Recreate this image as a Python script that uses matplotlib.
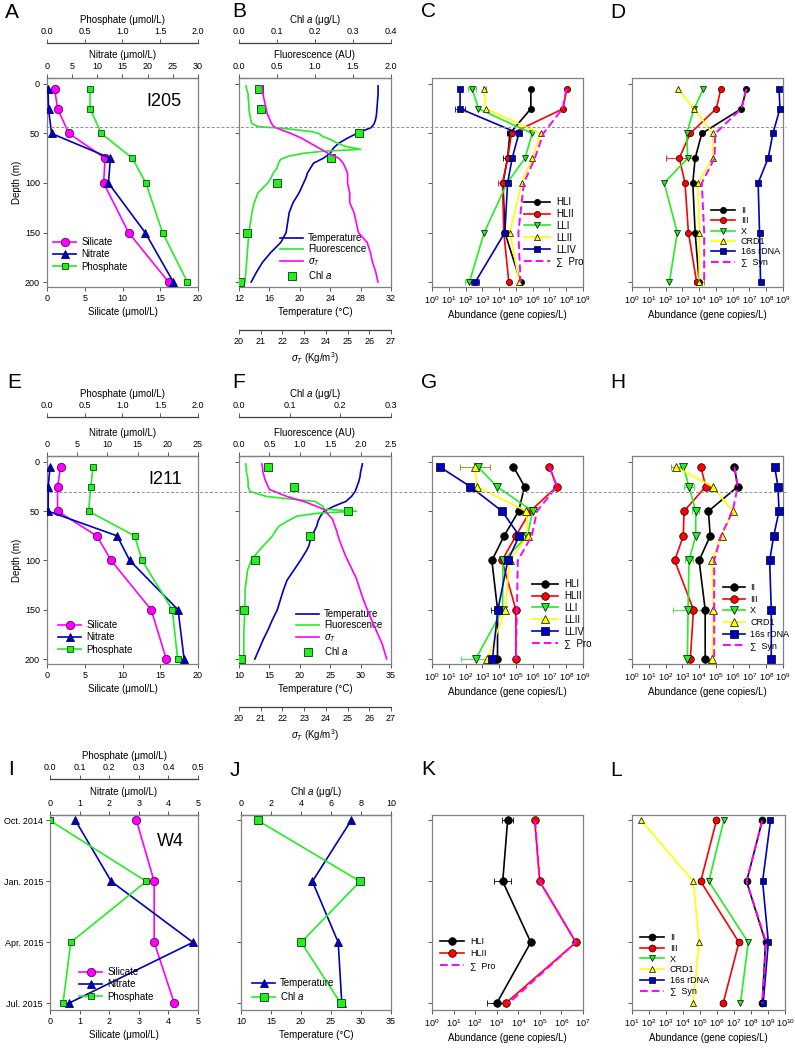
import matplotlib.pyplot as plt
import numpy as np
from matplotlib.lines import Line2D
from matplotlib.ticker import NullLocator

plt.rcParams['font.family'] = ['Liberation Sans', 'DejaVu Sans']
plt.rcParams['mathtext.fontset'] = 'custom'
plt.rcParams['mathtext.rm'] = 'Liberation Sans'
plt.rcParams['mathtext.it'] = 'Liberation Sans:italic'
plt.rcParams['mathtext.sf'] = 'Liberation Sans'

# ---------------- data ----------------
depth = [5, 25, 50, 75, 100, 150, 200]
months = ['Oct. 2014', 'Jan. 2015', 'Apr. 2015', 'Jul. 2015']

# I205 nutrients (umol/L)
si_205 = [1.0, 1.4, 2.9, 7.7, 7.5, 10.8, 16.1]
no3_205 = [0.2, 0.3, 0.9, 12.6, 12.2, 19.5, 25.1]
po4_205 = [0.57, 0.57, 0.72, 1.13, 1.31, 1.53, 1.86]
chl_205 = [0.053, 0.058, 0.317, 0.243, 0.099, 0.021, 0.003]

# I205 CTD profiles
t_dep_205 = [2, 5, 10, 20, 30, 35, 40, 44, 50, 55, 60, 65, 70, 75, 80, 85, 90, 95, 100,
             110, 120, 130, 140, 150, 160, 170, 180, 190, 200]
temp_205 = [30.3, 30.3, 30.3, 30.2, 30.1, 30.0, 29.8, 29.4, 27.5, 26.2, 25.1, 24.4, 24.0, 23.1,
            21.8, 21.4, 21.0, 20.8, 20.5, 19.9, 19.1, 18.6, 18.4, 18.2, 17.5, 16.2, 15.1, 14.3, 13.6]
f_dep_205 = [2, 5, 10, 15, 20, 25, 30, 35, 40, 43, 45, 48, 50, 53, 56, 60, 63, 66, 68, 70, 73,
             76, 80, 85, 90, 95, 100, 110, 120, 130, 140, 150, 160, 170, 180, 190, 200]
fluo_205 = [0.09, 0.10, 0.12, 0.12, 0.13, 0.13, 0.14, 0.15, 0.17, 0.25, 0.6, 0.95, 1.05, 1.1,
            1.2, 1.3, 1.4, 1.6, 1.1, 0.85, 0.65, 0.55, 0.52, 0.5, 0.45, 0.42, 0.38, 0.25, 0.2,
            0.17, 0.15, 0.13, 0.12, 0.11, 0.1, 0.09, 0.08]
s_dep_205 = [2, 5, 10, 20, 30, 40, 43, 46, 50, 55, 60, 65, 70, 75, 80, 90, 100, 110, 120, 130,
             140, 150, 155, 160, 170, 180, 190, 200]
sigma_205 = [21.05, 21.08, 21.1, 21.2, 21.3, 21.5, 21.6, 21.9, 22.4, 22.9, 23.3, 23.7, 24.1,
             24.6, 24.8, 25.0, 25.0, 25.1, 25.1, 25.3, 25.4, 25.5, 25.7, 25.9, 26.05, 26.15,
             26.3, 26.4]

# I205 Prochlorococcus (gene copies/L)
hli_205 = [7.8e5, 7.8e5, 4.4e4, 3.2e4, 1.7e4, 2.2e4, 1.9e5]
hlii_205 = [1.05e8, 6.6e7, 5.5e4, 3.2e4, 1.6e4, 1.9e4, 3.8e4]
lli_205 = [2.5e2, 5.8e2, 9.3e5, 3.5e5, 3.0e4, 1.3e3, 1.7e2]
llii_205 = [1.3e3, 1.6e3, 3.0e6, 9.3e5, 2.2e5, 4.4e4, 1.6e5]
lliv_205 = [47, 47, 1.5e5, 6.0e4, 3.2e4, 2.2e4, 3.8e2]
pro_205 = [1.05e8, 6.0e7, 4.3e6, 1.35e6, 3.0e5, 1.4e5, 1.9e5]
# error bars, in decades
hli_205_err = [0, 0, 0.2, 0.3, 0, 0, 0]
hlii_205_err = [0, 0, 0, 0, 0.3, 0, 0]
lli_205_err = [0.25, 0, 0, 0, 0, 0, 0.25]
llii_205_err = [0.1, 0, 0, 0, 0, 0, 0]
lliv_205_err = [0, 0.3, 0, 0, 0, 0, 0.25]

# I205 Synechococcus
ii_205 = [6.6e6, 3.3e6, 1.45e4, 5.8e3, 4.2e3, 5.8e3, 1.0e4]
iii_205 = [2.0e5, 1.05e5, 2.9e3, 6.6e2, 1.45e3, 2.3e3, 7.1e3]
x_205 = [1.8e4, 5.0e3, 1.8e3, 2.1e3, 83, 5.0e2, 1.7e2]
crd1_205 = [5.2e2, 5.0e3, 6.6e4, 6.3e4, 8.3e3, 1.05e4, 1.0e4]
rdna_205 = [5.8e8, 6.6e8, 2.5e8, 1.3e8, 3.3e7, 4.0e7, 4.6e7]
syn_205 = [6.6e6, 3.3e6, 9.1e4, 8.3e4, 1.45e4, 2.0e4, 2.0e4]
iii_205_err = [0, 0, 0, 0.8, 0, 0, 0]
crd1_205_err = [0, 0, 0, 0, 0, 0, 0.3]

# I211 nutrients
si_211 = [1.8, 1.4, 1.4, 6.6, 8.5, 13.8, 15.8]
no3_211 = [0.5, 0.2, 0.2, 11.6, 13.7, 21.7, 22.7]
po4_211 = [0.61, 0.58, 0.55, 1.16, 1.26, 1.66, 1.73]
chl_211 = [0.057, 0.108, 0.216, 0.141, 0.032, 0.010, 0.004]

# I211 CTD profiles
t_dep_211 = [2, 5, 10, 15, 20, 25, 30, 35, 40, 45, 50, 55, 60, 65, 70, 75, 80, 85, 90, 95, 100,
             110, 120, 130, 140, 150, 160, 170, 180, 190, 200]
temp_211 = [30.3, 30.2, 30.0, 29.9, 29.7, 29.4, 29.1, 28.5, 27.6, 25.6, 24.0, 23.4, 23.0, 22.8,
            22.4, 22.0, 21.7, 21.5, 21.1, 20.6, 20.1, 19.0, 17.9, 17.3, 16.8, 16.3, 15.5, 14.8,
            14.0, 13.3, 12.6]
f_dep_211 = [2, 5, 10, 15, 20, 25, 30, 35, 38, 40, 45, 48, 50, 52, 55, 60, 65, 70, 75, 80, 85,
             90, 95, 100, 110, 120, 130, 140, 150, 160, 170, 180, 190, 200]
fluo_211 = [0.11, 0.12, 0.12, 0.14, 0.15, 0.15, 0.18, 0.45, 0.9, 1.25, 1.38, 1.4, 1.93, 1.3,
            0.95, 0.8, 0.66, 0.6, 0.55, 0.48, 0.4, 0.33, 0.26, 0.2, 0.14, 0.12, 0.1, 0.1, 0.09,
            0.09, 0.08, 0.08, 0.08, 0.08]
s_dep_211 = [2, 5, 10, 18, 28, 35, 41, 48, 58, 70, 78, 95, 118, 138, 155, 170, 185, 200]
sigma_211 = [21.05, 21.08, 21.1, 21.2, 21.4, 22.2, 23.1, 23.9, 24.3, 24.5, 24.6, 24.9, 25.4,
             25.7, 26.0, 26.3, 26.6, 26.8]

# I211 Prochlorococcus
hli_211 = [7.2e4, 3.3e5, 1.45e5, 2.0e4, 3.7e3, 8.1e3, 8.0e3]
hlii_211 = [1.0e7, 2.8e7, 7.1e5, 1.0e5, 1.5e4, 1.0e5, 1.0e5]
lli_211 = [5.5e2, 7.4e3, 1.0e6, 4.9e5, 1.7e4, 1.6e4, 4.0e2]
llii_211 = [3.8e2, 4.8e2, 4.2e5, 5.1e5, 4.2e4, 2.3e4, 2.0e3]
lliv_211 = [2.9, 1.9e2, 1.5e4, 1.6e5, 3.3e4, 8.5e3, 4.0e3]
pro_211 = [1.0e7, 2.8e7, 1.8e6, 8.9e5, 1.3e5, 1.15e5, 1.0e5]
llii_211_err = [0.9, 0, 0, 0, 0, 0, 0]
lliv_211_err = [0, 0, 0, 0, 0, 0.4, 0]
lli_211_err = [0, 0, 0, 0, 0, 0, 0.9]

# I211 Synechococcus
ii_211 = [1.26e6, 2.0e6, 3.6e4, 4.6e4, 1.0e4, 2.3e4, 2.3e4]
iii_211 = [1.26e4, 2.5e4, 1.26e3, 1.15e3, 3.5e2, 4.6e3, 3.0e3]
x_211 = [1.15e3, 2.5e3, 6.3e3, 6.3e3, 2.5e3, 2.2e3, 2.0e3]
crd1_211 = [4.0e2, 6.3e4, 1.0e6, 2.2e5, 5.8e4, 7.2e4, 6.0e4]
rdna_211 = [3.2e8, 5.0e8, 5.8e8, 2.8e8, 1.6e8, 2.0e8, 2.0e8]
syn_211 = [1.26e6, 2.0e6, 1.0e6, 2.0e5, 7.9e4, 7.9e4, 7.9e4]
crd1_211_err = [0.3, 0, 0, 0, 0, 0, 0]
x_211_err = [0, 0.3, 0.2, 0, 0.25, 0.9, 0]

# W4 time series
si_w4 = [2.92, 3.52, 3.52, 4.2]
no3_w4 = [0.86, 2.07, 4.83, 0.63]
po4_w4 = [0.0, 0.325, 0.07, 0.044]
temp_w4 = [28.35, 21.9, 26.2, 26.8]
chl_w4 = [1.13, 7.94, 4.01, 6.65]
hli_w4 = [3.2e3, 1.9e3, 3.8e4, 1.0e3]
hlii_w4 = [5.8e4, 9.8e4, 4.7e6, 2.6e3]
pro_w4 = [6.0e4, 1.0e5, 4.7e6, 3.6e3]
hli_w4_err = [0.25, 0.4, 0, 0.45]
ii_w4 = [4.6e8, 5.5e7, 7.2e8, 4.6e8]
iii_w4 = [9.3e5, 1.1e5, 1.95e7, 2.3e6]
x_w4 = [2.5e6, 3.3e5, 6.9e7, 2.4e7]
crd1_w4 = [35, 4.0e4, 8.9e4, 4.0e4]
rdna_w4 = [1.4e9, 4.8e8, 1.05e9, 5.2e8]
syn_w4 = [4.6e8, 5.5e7, 7.9e8, 4.6e8]

MAG = '#ff00ff'
BLUE = '#0000c0'
GREEN = '#22ee22'
YEL = '#ffff00'
RED = '#ff0000'
BOX = '#808080'

W, H = 795, 1049
fig = plt.figure(figsize=(W / 100, H / 100), dpi=100)


def add_ax(x0, x1, y0, y1):
    return fig.add_axes([x0 / W, 1 - y1 / H, (x1 - x0) / W, (y1 - y0) / H])


def style(ax):
    for s in ax.spines.values():
        s.set_color(BOX)
        s.set_linewidth(0.9)
    ax.tick_params(direction='out', length=3, width=0.6, labelsize=6.5, pad=2, color='#404040')


def depth_axis(ax, labels):
    ax.set_ylim(205, -6)
    ax.set_yticks([0, 50, 100, 150, 200])
    if labels:
        ax.set_ylabel('Depth (m)', fontsize=7, labelpad=2)
    else:
        ax.set_yticklabels([])


def month_axis(ax, labels):
    ax.set_ylim(3.11, -0.09)
    ax.set_yticks(range(4))
    if labels:
        ax.set_yticklabels(months)
    else:
        ax.set_yticklabels([])


def set_x(ax, lim, ticks, fmt, label):
    ax.set_xlim(lim)
    ax.set_xticks(ticks)
    ax.set_xticklabels([fmt % v for v in ticks])
    ax.set_xlabel(label, fontsize=7, labelpad=3)


def twin(ax, where, offset):
    t = ax.twiny()
    if where == 'bottom':
        t.xaxis.tick_bottom()
        t.xaxis.set_label_position('bottom')
    for k, s in t.spines.items():
        s.set_visible(k == where)
    t.spines[where].set_color(BOX if offset == 0 else '#404040')
    t.spines[where].set_linewidth(0.9)
    if offset:
        t.spines[where].set_position(('outward', offset))
    t.tick_params(direction='out', length=3, width=0.6, labelsize=6.5, pad=2, color='#404040')
    return t


def legend(ax, handles, labels, x, y, fs=7, hl=2.4, ls=0.2, tp=0.5):
    ax.legend(handles, labels, loc='upper left', bbox_to_anchor=(x / W, 1 - y / H),
              bbox_transform=fig.transFigure, frameon=False, fontsize=fs, handlelength=hl,
              handletextpad=tp, labelspacing=ls, borderpad=0, borderaxespad=0)


def errs(ax, x, y, e, color):
    x = np.array(x, float)
    y = np.array(y, float)
    e = np.array(e, float)
    m = e > 0
    lo = x - x / 10 ** e
    hi = x * 10 ** e - x
    ax.errorbar(x[m], y[m], xerr=[lo[m], hi[m]], fmt='none', ecolor=color,
                elinewidth=0.6, capsize=2, capthick=0.6, zorder=1)


def nutrient_panel(rect, y, si, no3, po4, si_lim, no3_lim, po4_lim, offset, ytype, leg_xy):
    ax = add_ax(*rect)
    style(ax)
    tn = twin(ax, 'top', 0)
    tp = twin(ax, 'top', offset)
    set_x(ax, si_lim[:2], si_lim[2], si_lim[3], 'Silicate (\u03bcmol/L)')
    set_x(tn, no3_lim[:2], no3_lim[2], no3_lim[3], 'Nitrate (\u03bcmol/L)')
    set_x(tp, po4_lim[:2], po4_lim[2], po4_lim[3], 'Phosphate (\u03bcmol/L)')
    h1, = ax.plot(si, y, color=MAG, lw=1.2, marker='o', ms=6, mfc=MAG, mec='#600060', mew=0.6)
    h2, = tn.plot(no3, y, color=BLUE, lw=1.2, marker='^', ms=6, mfc=BLUE, mec='#000060', mew=0.6)
    h3, = tp.plot(po4, y, color=GREEN, lw=1.2, marker='s', ms=5, mfc=GREEN, mec='#005000', mew=0.6)
    if ytype == 'depth':
        depth_axis(ax, True)
    else:
        month_axis(ax, True)
    legend(tp, [h1, h2, h3], ['Silicate', 'Nitrate', 'Phosphate'], *leg_xy, ls=0.25)
    return ax


def ctd_panel(rect, temp_lim, fluo_lim, chl_lim, offset, tdat, fdat, sdat, chl, leg_xy):
    ax = add_ax(*rect)
    style(ax)
    tf = twin(ax, 'top', 0)
    tc = twin(ax, 'top', offset)
    ts = twin(ax, 'bottom', 31)
    set_x(ax, temp_lim[:2], temp_lim[2], '%d', 'Temperature (\u00b0C)')
    set_x(tf, fluo_lim[:2], fluo_lim[2], '%.1f', 'Fluorescence (AU)')
    set_x(tc, chl_lim[:2], chl_lim[2], '%.1f', 'Chl $a$ (\u03bcg/L)')
    set_x(ts, (20, 27), list(range(20, 28)), '%d', r'$\sigma_T$ (Kg/m$^3$)')
    h1, = ax.plot(tdat[1], tdat[0], color=BLUE, lw=1.2)
    h2, = tf.plot(fdat[1], fdat[0], color=GREEN, lw=1.2)
    h3, = ts.plot(sdat[1], sdat[0], color=MAG, lw=1.2)
    h4, = tc.plot(chl, depth, ls='none', marker='s', ms=5.5, mfc=GREEN, mec='#004000', mew=0.6)
    depth_axis(ax, False)
    legend(tc, [h1, h2, h3, h4], ['Temperature', 'Fluorescence', r'$\sigma_T$', 'Chl $a$'],
           *leg_xy, ls=0.15)
    return ax


def abund_panel(rect, y, series, xlim, ytype, leg_xy, ms=4.5, fs=7, ls=0.2, hl=2.7):
    ax = add_ax(*rect)
    style(ax)
    ax.set_xscale('log')
    ax.set_xlim(xlim)
    lo, hi = int(round(np.log10(xlim[0]))), int(round(np.log10(xlim[1])))
    ax.set_xticks([10.0 ** i for i in range(lo, hi + 1)])
    ax.xaxis.set_minor_locator(NullLocator())
    ax.set_xlabel('Abundance (gene copies/L)', fontsize=7, labelpad=3)
    handles, labels = [], []
    for vals, err, color, mk, lab in series:
        if mk is None:
            h, = ax.plot(vals, y, color=MAG, lw=1.4, ls=(0, (4, 2)), zorder=5)
        else:
            if err is not None:
                errs(ax, vals, y, err, color if color != YEL else '#888800')
            h, = ax.plot(vals, y, color=color, lw=1.2, marker=mk, ms=ms, mfc=color,
                         mec='black', mew=0.5, zorder=3)
        handles.append(h)
        labels.append(lab)
    if ytype == 'depth':
        depth_axis(ax, False)
    else:
        month_axis(ax, False)
    legend(ax, handles, labels, *leg_xy, fs=fs, hl=hl, ls=ls, tp=0.6)
    return ax


SUM = '\u2211  '

# ---------------- row 1: I205 ----------------
nutrient_panel((47, 198, 78, 287), depth, si_205, no3_205, po4_205,
               (0, 20, [0, 5, 10, 15, 20], '%d'), (0, 30, [0, 5, 10, 15, 20, 25, 30], '%d'),
               (0, 2, [0, 0.5, 1.0, 1.5, 2.0], '%.1f'), 25, 'depth', (53, 237))
ctd_panel((239, 391, 78, 287), (12, 32, [12, 16, 20, 24, 28, 32]),
          (0, 2, [0, 0.5, 1.0, 1.5, 2.0]), (0, 0.4, [0, 0.1, 0.2, 0.3, 0.4]), 25,
          (t_dep_205, temp_205), (f_dep_205, fluo_205), (s_dep_205, sigma_205), chl_205,
          (280, 233))
abund_panel((432, 583, 78, 287), depth,
            [(hli_205, hli_205_err, 'black', 'o', 'HLI'),
             (hlii_205, hlii_205_err, RED, 'o', 'HLII'),
             (lli_205, lli_205_err, GREEN, 'v', 'LLI'),
             (llii_205, llii_205_err, YEL, '^', 'LLII'),
             (lliv_205, lliv_205_err, BLUE, 's', 'LLIV'),
             (pro_205, None, MAG, None, SUM + 'Pro')],
            (1, 1e9), 'depth', (524, 197))
abund_panel((632, 783, 78, 287), depth,
            [(ii_205, None, 'black', 'o', 'II'),
             (iii_205, iii_205_err, RED, 'o', 'III'),
             (x_205, None, GREEN, 'v', 'X'),
             (crd1_205, crd1_205_err, YEL, '^', 'CRD1'),
             (rdna_205, None, BLUE, 's', '16s rDNA'),
             (syn_205, None, MAG, None, SUM + 'Syn')],
            (1, 1e9), 'depth', (711, 206), fs=6.5, ls=0.15)

# ---------------- row 2: I211 ----------------
nutrient_panel((47, 198, 456, 664), depth, si_211, no3_211, po4_211,
               (0, 20, [0, 5, 10, 15, 20], '%d'), (0, 25, [0, 5, 10, 15, 20, 25], '%d'),
               (0, 2, [0, 0.5, 1.0, 1.5, 2.0], '%.1f'), 28, 'depth', (58, 620))
ctd_panel((239, 391, 456, 664), (10, 35, [10, 15, 20, 25, 30, 35]),
          (0, 2.5, [0, 0.5, 1.0, 1.5, 2.0, 2.5]), (0, 0.3, [0, 0.1, 0.2, 0.3]), 28,
          (t_dep_211, temp_211), (f_dep_211, fluo_211), (s_dep_211, sigma_211), chl_211,
          (296, 609))
abund_panel((432, 583, 456, 664), depth,
            [(hli_211, None, 'black', 'o', 'HLI'),
             (hlii_211, None, RED, 'o', 'HLII'),
             (lli_211, lli_211_err, GREEN, 'v', 'LLI'),
             (llii_211, llii_211_err, YEL, '^', 'LLII'),
             (lliv_211, lliv_211_err, BLUE, 's', 'LLIV'),
             (pro_211, None, MAG, None, SUM + 'Pro')],
            (1, 1e9), 'depth', (532, 579), ms=5.5, ls=0.2)
abund_panel((632, 783, 456, 664), depth,
            [(ii_211, None, 'black', 'o', 'II'),
             (iii_211, None, RED, 'o', 'III'),
             (x_211, x_211_err, GREEN, 'v', 'X'),
             (crd1_211, crd1_211_err, YEL, '^', 'CRD1'),
             (rdna_211, None, BLUE, 's', '16s rDNA'),
             (syn_211, None, MAG, None, SUM + 'Syn')],
            (1, 1e9), 'depth', (723, 583), ms=5.5, fs=6.5, ls=0.3, hl=2.4)

# ---------------- row 3: W4 ----------------
idx = list(range(4))
nutrient_panel((50, 198, 815, 1010), idx, si_w4, no3_w4, po4_w4,
               (0, 5, [0, 1, 2, 3, 4, 5], '%d'), (0, 5, [0, 1, 2, 3, 4, 5], '%d'),
               (0, 0.5, [0, 0.1, 0.2, 0.3, 0.4, 0.5], '%.1f'), 26, 'month', (79, 967))

axj = add_ax(241, 391, 815, 1010)
style(axj)
tcj = twin(axj, 'top', 0)
set_x(axj, (10, 35), [10, 15, 20, 25, 30, 35], '%d', 'Temperature (\u00b0C)')
set_x(tcj, (0, 10), [0, 2, 4, 6, 8, 10], '%d', 'Chl $a$ (\u03bcg/L)')
hj1, = axj.plot(temp_w4, idx, color=BLUE, lw=1.2, marker='^', ms=6, mfc=BLUE, mec='#000060', mew=0.6)
hj2, = tcj.plot(chl_w4, idx, color=GREEN, lw=1.2, marker='s', ms=5.5, mfc=GREEN, mec='#004000', mew=0.6)
month_axis(axj, False)
legend(tcj, [hj1, hj2], ['Temperature', 'Chl $a$'], 252, 978, ls=0.2)

abund_panel((432, 583, 815, 1010), idx,
            [(hli_w4, hli_w4_err, 'black', 'o', 'HLI'),
             (hlii_w4, None, RED, 'o', 'HLII'),
             (pro_w4, None, MAG, None, SUM + 'Pro')],
            (1, 1e7), 'month', (440, 937), ms=5.5, fs=6.5, ls=0.35)
abund_panel((632, 785, 815, 1010), idx,
            [(ii_w4, None, 'black', 'o', 'II'),
             (iii_w4, None, RED, 'o', 'III'),
             (x_w4, None, GREEN, 'v', 'X'),
             (crd1_w4, None, YEL, '^', 'CRD1'),
             (rdna_w4, None, BLUE, 's', '16s rDNA'),
             (syn_w4, None, MAG, None, SUM + 'Syn')],
            (10, 1e10), 'month', (640, 933), ms=5, fs=6.5, ls=0.2)

# mixed layer lines
for y, x0 in [(127, 46), (492, 49)]:
    fig.add_artist(Line2D([x0 / W, 786 / W], [1 - y / H] * 2, color='#909090', lw=0.7,
                          ls=(0, (3, 2))))

# panel letters and station names
for lab, x, y in [('A', 5, 18), ('B', 232, 17), ('C', 421, 17), ('D', 610, 18),
                  ('E', 7, 388), ('F', 232, 388), ('G', 421, 388), ('H', 610, 388),
                  ('I', 8, 775), ('J', 230, 776), ('K', 421, 775), ('L', 610, 776)]:
    fig.text(x / W, 1 - y / H, lab, fontsize=15, ha='left', va='baseline')
for lab, x, y in [('I205', 164, 101), ('I211', 165, 480), ('W4', 170, 842)]:
    fig.text(x / W, 1 - y / H, lab, fontsize=13, ha='center', va='center')

fig.savefig('out.png', dpi=100)
